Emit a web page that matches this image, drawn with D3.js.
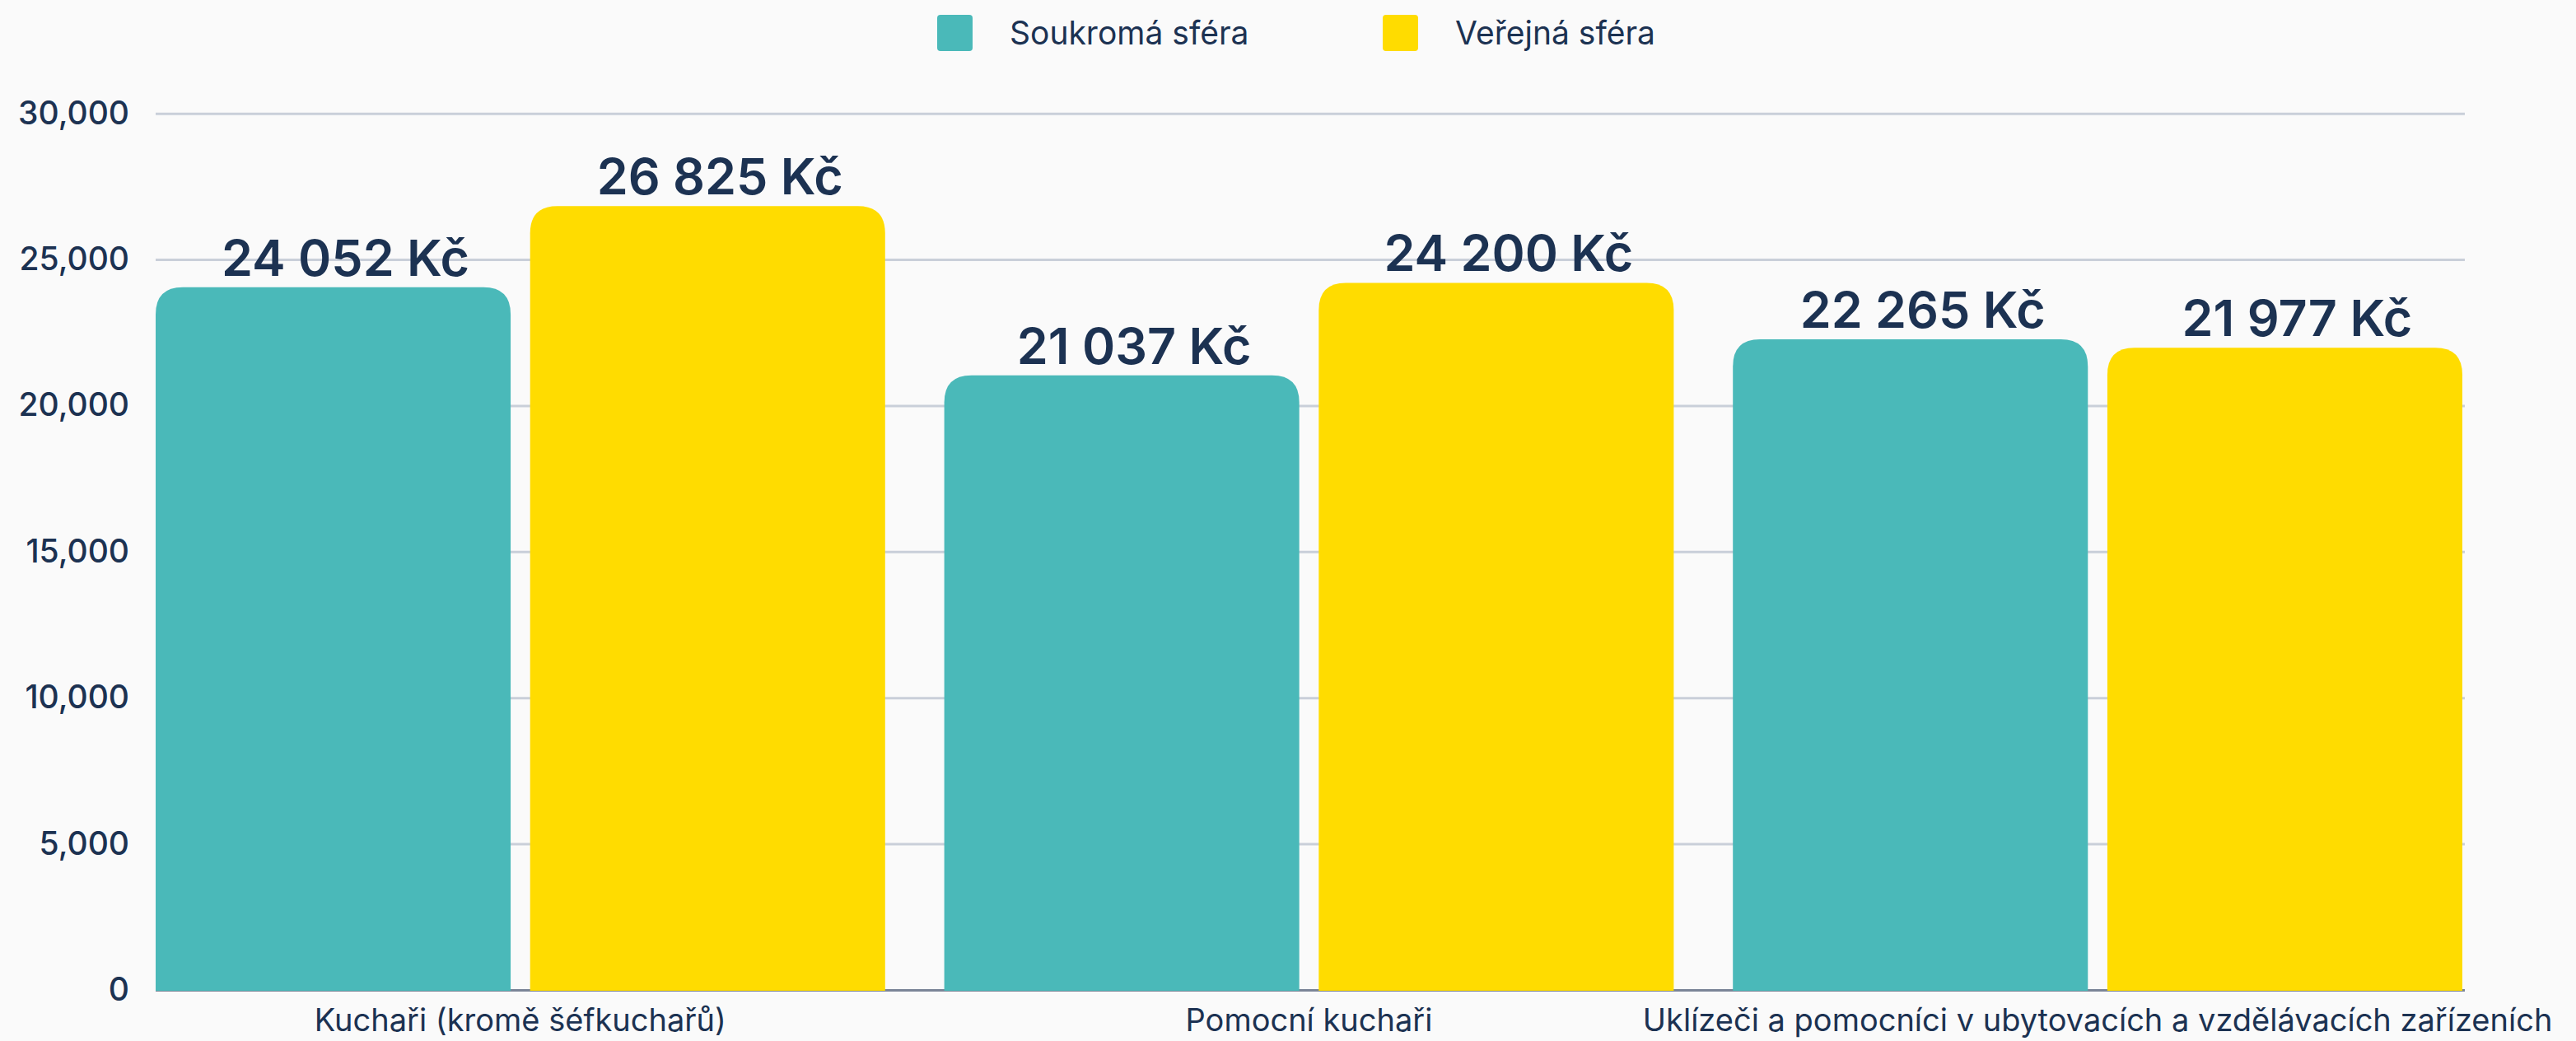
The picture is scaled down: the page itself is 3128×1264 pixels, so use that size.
<!DOCTYPE html>
<html>
<head>
<meta charset="utf-8">
<script src="https://cdn.jsdelivr.net/npm/d3@7"></script>
<style>
  html, body { margin: 0; padding: 0; background: #fafafa; }
  svg { display: block; font-family: Inter, "Noto Sans", sans-serif; }
</style>
</head>
<body>
<div id="chart"></div>
<script>
// chart data
const categories = [
    "Kuchaři (kromě šéfkuchařů)",
    "Pomocní kuchaři",
    "Uklízeči a pomocníci v ubytovacích a vzdělávacích zařízeních"
];
const seriesNames = ["Soukromá sféra", "Veřejná sféra"];
const privateValues = [24052, 21037, 22265];
const publicValues = [26825, 24200, 21977];
const yTicks = [0, 5000, 10000, 15000, 20000, 25000, 30000];

const CONFIG = {
    width: 3128,
    height: 1264,
    plot: { left: 189, right: 2990, gridRight: 2993, top: 137.7, bottom: 1202 },
    colors: {
        series: ["#4ab9b9", "#ffdc00"],
        text: "#1c3252",
        grid: "#c9cfd9",
        axis: "#7b8597",
        background: "#fafafa"
    },
    barRadius: 33
};

const svg = d3.select("#chart")
    .append("svg")
    .attr("width", CONFIG.width)
    .attr("height", CONFIG.height);

svg.append("rect")
    .attr("width", CONFIG.width)
    .attr("height", CONFIG.height)
    .attr("fill", CONFIG.colors.background);

const { plot } = CONFIG;

const y = d3.scaleLinear()
    .domain([0, 30000])
    .range([plot.bottom, plot.top]);

const x0 = d3.scaleBand()
    .domain(categories)
    .range([plot.left, plot.right])
    .paddingInner(0.075)
    .paddingOuter(0);

const x1 = d3.scaleBand()
    .domain(seriesNames)
    .range([0, x0.bandwidth()])
    .paddingInner(0.052);

const color = d3.scaleOrdinal()
    .domain(seriesNames)
    .range(CONFIG.colors.series);

// y axis with gridlines
const yAxis = svg.append("g")
    .attr("transform", `translate(${plot.left},0)`)
    .call(d3.axisLeft(y)
        .tickValues(yTicks)
        .tickFormat(d3.format(","))
        .tickSize(-(plot.gridRight - plot.left))
        .tickPadding(32));

yAxis.select(".domain").remove();
yAxis.selectAll(".tick line")
    .attr("stroke", d => d === 0 ? CONFIG.colors.axis : CONFIG.colors.grid)
    .attr("stroke-width", 3);
yAxis.selectAll(".tick text")
    .attr("fill", CONFIG.colors.text)
    .attr("font-size", 39)
    .attr("font-weight", 500)
    .attr("font-family", "Inter, sans-serif");

// bars with rounded top corners
function roundedTopBar(x, yTop, w, yBottom, r) {
    r = Math.min(r, w / 2, yBottom - yTop);
    return `M${x},${yBottom}` +
        `V${yTop + r}` +
        `Q${x},${yTop} ${x + r},${yTop}` +
        `H${x + w - r}` +
        `Q${x + w},${yTop} ${x + w},${yTop + r}` +
        `V${yBottom}Z`;
}

const rows = categories.map((c, i) => ({
    category: c,
    values: [
        { series: seriesNames[0], value: privateValues[i] },
        { series: seriesNames[1], value: publicValues[i] }
    ]
}));

const groups = svg.append("g")
    .selectAll("g")
    .data(rows)
    .join("g")
    .attr("transform", d => `translate(${x0(d.category)},0)`);

groups.selectAll("path")
    .data(d => d.values)
    .join("path")
    .attr("fill", d => color(d.series))
    .attr("d", d => roundedTopBar(x1(d.series), y(d.value), x1.bandwidth(), y(0) + 1, CONFIG.barRadius));

const fmtKc = v => d3.format(",")(v).replace(/,/g, " ") + " Kč";

groups.selectAll("text")
    .data(d => d.values)
    .join("text")
    .attr("x", d => x1(d.series) + x1.bandwidth() / 2 + 15)
    .attr("y", d => y(d.value) - 14)
    .attr("text-anchor", "middle")
    .attr("fill", CONFIG.colors.text)
    .attr("font-size", 61)
    .attr("font-weight", 600)
    .text(d => fmtKc(d.value));

// category labels
svg.append("g")
    .selectAll("text")
    .data(categories)
    .join("text")
    .attr("x", d => x0(d) + x0.bandwidth() / 2)
    .attr("y", 1252)
    .attr("text-anchor", "middle")
    .attr("fill", CONFIG.colors.text)
    .attr("font-size", 38)
    .text(d => d);

// legend
const legendX = [1138, 1679];
const legend = svg.append("g")
    .selectAll("g")
    .data(seriesNames)
    .join("g")
    .attr("transform", (d, i) => `translate(${legendX[i]},18)`);

legend.append("rect")
    .attr("width", 43)
    .attr("height", 44)
    .attr("rx", 4)
    .attr("fill", d => color(d));

legend.append("text")
    .attr("x", 88)
    .attr("y", 22)
    .attr("dy", "0.35em")
    .attr("fill", CONFIG.colors.text)
    .attr("font-size", 39)
    .text(d => d);
</script>
</body>
</html>
